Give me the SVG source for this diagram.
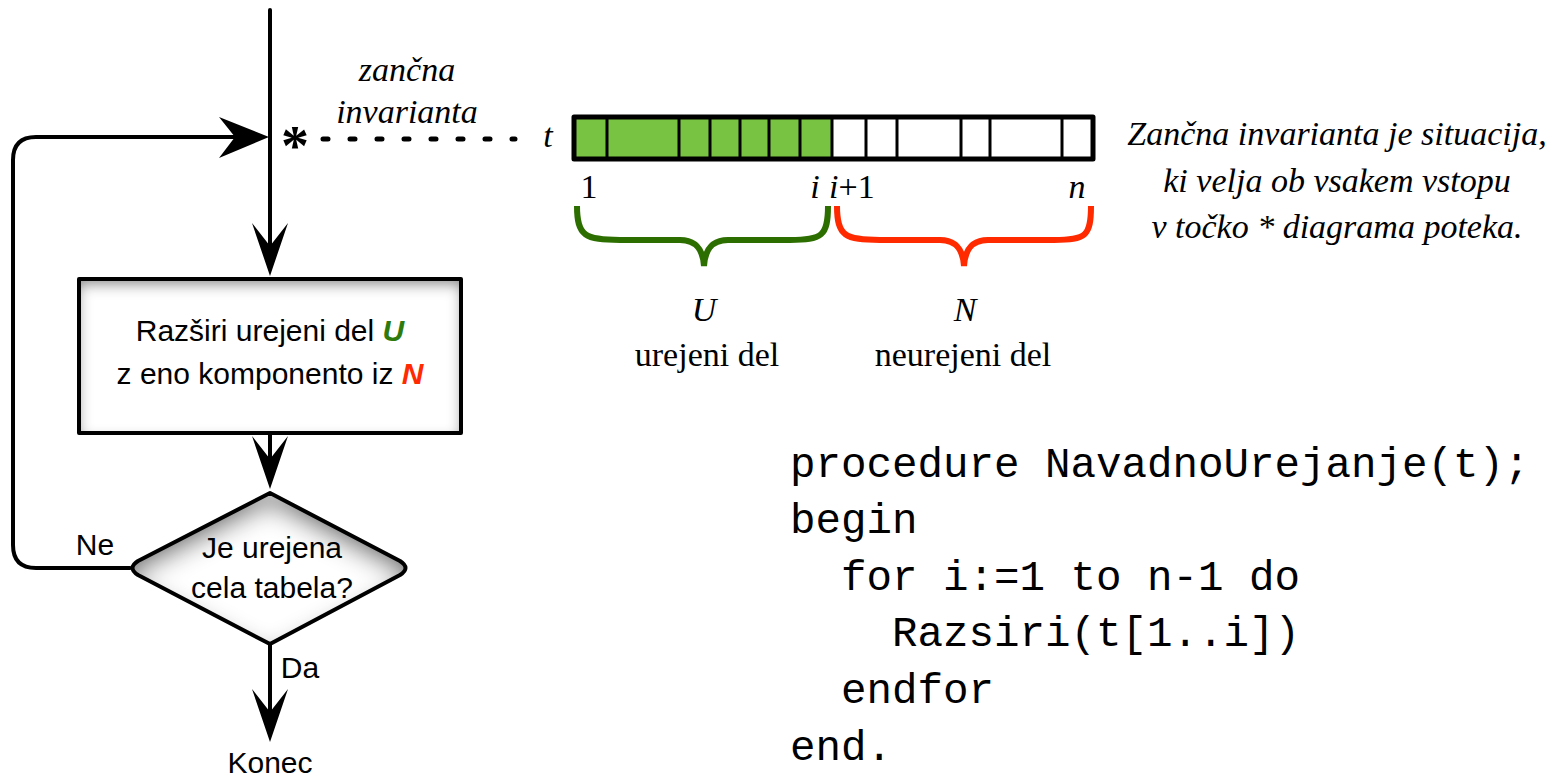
<svg xmlns="http://www.w3.org/2000/svg" width="1551" height="776" viewBox="0 0 1551 776">
<style>
.ln{fill:none;stroke:#000;stroke-width:4;stroke-linejoin:round;stroke-linecap:round}
.ah{fill:#000;stroke:none}
.sans{font-family:"Liberation Sans",Arial,sans-serif;font-size:30px;fill:#000}
.ser{font-family:"Liberation Serif","Times New Roman",serif;font-size:34px;fill:#000}
.it{font-style:italic}
.code{font-family:"Liberation Mono","Courier New",monospace;font-size:42.5px;fill:#000;white-space:pre}
.cell{stroke:#000;stroke-width:3}
</style>
<defs>
<filter id="inner" x="-10%" y="-10%" width="120%" height="120%">
<feFlood flood-color="#000" flood-opacity="0.8" result="f"/>
<feComposite in="f" in2="SourceAlpha" operator="out" result="o"/>
<feGaussianBlur in="o" stdDeviation="7" result="b"/>
<feOffset in="b" dy="6" result="bo"/>
<feComposite in="bo" in2="SourceAlpha" operator="in" result="s"/>
<feMerge><feMergeNode in="SourceGraphic"/><feMergeNode in="s"/></feMerge>
</filter>
<filter id="innerD" x="-10%" y="-10%" width="120%" height="120%">
<feFlood flood-color="#000" flood-opacity="0.85" result="f"/>
<feComposite in="f" in2="SourceAlpha" operator="out" result="o"/>
<feGaussianBlur in="o" stdDeviation="12" result="b"/>
<feOffset in="b" dy="12" result="bo"/>
<feComposite in="bo" in2="SourceAlpha" operator="in" result="s"/>
<feMerge><feMergeNode in="SourceGraphic"/><feMergeNode in="s"/></feMerge>
</filter>
<path id="ahd" d="M0,0 L-18,-53 L0,-30 L18,-53 Z"/>
</defs>

<g id="connectors">
<line class="ln" x1="270" y1="10" x2="270" y2="262"/>
<use href="#ahd" class="ah" transform="translate(270,276)"/>
<path class="ln" d="M130,568 L36,568 Q13,568 13,545 L13,160 Q13,137 36,137 L255,137"/>
<path class="ah" d="M269,137 L219,117 L235,137 L219,158 Z"/>
<line class="ln" x1="270" y1="433" x2="270" y2="475"/>
<use href="#ahd" class="ah" transform="translate(270,489)"/>
<line class="ln" x1="270" y1="644" x2="270" y2="728"/>
<use href="#ahd" class="ah" transform="translate(270,742)"/>
<line x1="323" y1="139" x2="515" y2="139" stroke="#000" stroke-width="5" stroke-linecap="round" stroke-dasharray="5 22"/>
</g>

<g id="star">
<text x="295" y="165" text-anchor="middle" style="font-family:'Liberation Serif',serif;font-size:56px;font-weight:bold">*</text>
</g>

<g id="invariant-label">
<text class="ser it" x="407" y="81" text-anchor="middle">zančna</text>
<text class="ser it" x="407" y="123" text-anchor="middle">invarianta</text>
</g>

<g id="box">
<rect x="79" y="279" width="382" height="154" fill="#fff" filter="url(#inner)"/>
<rect x="79" y="279" width="382" height="154" fill="none" stroke="#000" stroke-width="4" stroke-linejoin="round"/>
<text class="sans" x="270" y="341" text-anchor="middle">Razširi urejeni del <tspan fill="#2e7a0a" font-weight="bold" font-style="italic">U</tspan></text>
<text class="sans" x="270" y="384" text-anchor="middle">z eno komponento iz <tspan fill="#ff2a00" font-weight="bold" font-style="italic">N</tspan></text>
</g>

<g id="decision">
<path d="M270,493 L400,561 Q411,568 400,575 L270,644 L138,575 Q127,568 138,561 Z" fill="#fff" filter="url(#innerD)"/>
<path d="M270,493 L400,561 Q411,568 400,575 L270,644 L138,575 Q127,568 138,561 Z" fill="none" stroke="#000" stroke-width="4" stroke-linejoin="round"/>
<text class="sans" x="272" y="558" text-anchor="middle">Je urejena</text>
<text class="sans" x="272" y="598" text-anchor="middle">cela tabela?</text>
</g>

<g id="labels">
<text class="sans" x="95" y="555" text-anchor="middle">Ne</text>
<text class="sans" x="300" y="678" text-anchor="middle">Da</text>
<text class="sans" x="270" y="773" text-anchor="middle">Konec</text>
</g>

<g id="array">
<text class="ser it" x="548" y="147" text-anchor="middle">t</text>
<rect x="574" y="117" width="258" height="42" fill="#79c343"/>
<rect x="832" y="117" width="261" height="42" fill="#fff"/>
<g class="cell">
<line x1="607" y1="117" x2="607" y2="159"/>
<line x1="679" y1="117" x2="679" y2="159"/>
<line x1="710" y1="117" x2="710" y2="159"/>
<line x1="740" y1="117" x2="740" y2="159"/>
<line x1="769" y1="117" x2="769" y2="159"/>
<line x1="800" y1="117" x2="800" y2="159"/>
<line x1="832" y1="117" x2="832" y2="159"/>
<line x1="866" y1="117" x2="866" y2="159"/>
<line x1="897" y1="117" x2="897" y2="159"/>
<line x1="961" y1="117" x2="961" y2="159"/>
<line x1="990" y1="117" x2="990" y2="159"/>
<line x1="1062" y1="117" x2="1062" y2="159"/>
</g>
<rect x="574" y="117" width="519" height="42" fill="none" stroke="#000" stroke-width="5" stroke-linejoin="round"/>
<text class="ser" x="589" y="198" text-anchor="middle">1</text>
<text class="ser it" x="815" y="198" text-anchor="middle">i</text>
<text class="ser" x="829" y="198"><tspan font-style="italic">i</tspan>+1</text>
<text class="ser it" x="1077" y="198" text-anchor="middle">n</text>
</g>

<g id="brace-u">
<path d="M577,206 C577,236 585,240 620,240 L680,240 C698,240 703,252 704,266 C705,252 710,240 728,240 L790,240 C822,240 828,236 828,206" fill="none" stroke="#2d6e00" stroke-width="6"/>
<text class="ser it" x="704" y="321" text-anchor="middle" fill="#2d6e00">U</text>
<text class="ser" x="707" y="366" text-anchor="middle">urejeni del</text>
</g>

<g id="brace-n">
<path d="M837,206 C837,236 845,240 880,240 L940,240 C958,240 963,252 964,266 C965,252 970,240 988,240 L1054,240 C1086,240 1091,236 1091,206" fill="none" stroke="#ff2a00" stroke-width="6"/>
<text class="ser it" x="965" y="321" text-anchor="middle" fill="#ff2a00">N</text>
<text class="ser" x="963" y="366" text-anchor="middle">neurejeni del</text>
</g>

<g id="note">
<text class="ser it" x="1337" y="145" text-anchor="middle">Zančna invarianta je situacija,</text>
<text class="ser it" x="1337" y="192" text-anchor="middle">ki velja ob vsakem vstopu</text>
<text class="ser it" x="1337" y="238" text-anchor="middle">v točko * diagrama poteka.</text>
</g>

<g id="code">
<text class="code" x="790" y="477">procedure NavadnoUrejanje(t);</text>
<text class="code" x="790" y="533">begin</text>
<text class="code" x="790" y="590">  for i:=1 to n-1 do</text>
<text class="code" x="790" y="646">    Razsiri(t[1..i])</text>
<text class="code" x="790" y="703">  endfor</text>
<text class="code" x="790" y="760">end.</text>
</g>
</svg>
